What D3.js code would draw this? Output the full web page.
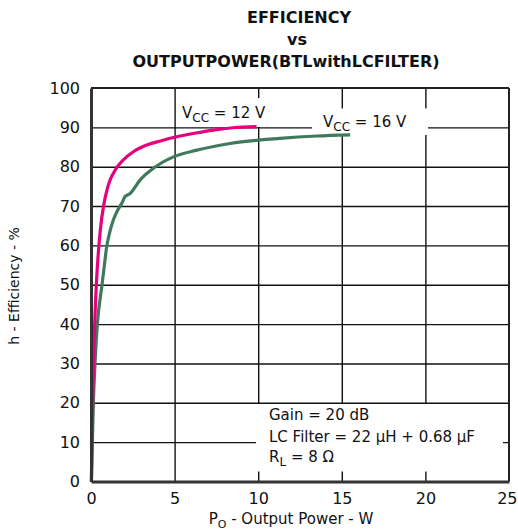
<!DOCTYPE html>
<html>
<head>
<meta charset="utf-8">
<script src="https://cdn.jsdelivr.net/npm/d3@7"></script>
<style>
  html, body { margin: 0; padding: 0; background: #fff; }
  svg { display: block; }
  text { font-family: "DejaVu Sans", "Liberation Sans", Arial, sans-serif; fill: #111; }
</style>
</head>
<body>
<div id="chart"></div>
<script>
// ---- data ----
const titleLines = ["EFFICIENCY", "vs", "OUTPUTPOWER(BTLwithLCFILTER)"];
const xTicks = [0, 5, 10, 15, 20, 25];
const yTicks = [0, 10, 20, 30, 40, 50, 60, 70, 80, 90, 100];
const seriesNames = ["VCC = 12 V", "VCC = 16 V"];
// Output power (W)
const vcc12Power = [0.02, 0.06, 0.10, 0.15, 0.22, 0.32, 0.42, 0.56, 0.75, 0.95, 1.14, 1.5, 1.93, 2.53, 3.34, 4.2, 5.13, 6.2, 7.32, 8.5, 9.9];
// Efficiency (%)
const vcc12Eff   = [0, 10, 20, 30, 40, 50, 57, 64, 70, 74, 76.6, 79.5, 81.7, 83.8, 85.5, 86.6, 87.6, 88.5, 89.3, 89.9, 90.2];
const vcc16Power = [0.03, 0.08, 0.14, 0.24, 0.38, 0.66, 0.8, 0.94, 1.1, 1.34, 1.6, 1.84, 2.04, 2.34, 2.93, 3.73, 4.93, 6.33, 8.32, 11.3, 13.5, 15.5];
const vcc16Eff   = [0, 10, 20, 30, 40, 50, 55, 59.7, 63, 66.5, 69, 70.7, 72.4, 73.2, 76.6, 79.6, 82.5, 84.2, 85.9, 87.2, 87.8, 88.1];
const noteLines = ["Gain = 20 dB", "LC Filter = 22 \u00B5H + 0.68 \u00B5F", "R_L = 8 \u03A9"];

// ---- layout ----
const W = 518, H = 532;
const x = d3.scaleLinear().domain([0, 25]).range([91, 509]);
const y = d3.scaleLinear().domain([0, 100]).range([481.5, 88]);

const svg = d3.select("#chart").append("svg").attr("width", W).attr("height", H);

// title
const titleX = [299, 297, 286], titleY = [23, 45, 67];
titleLines.forEach((t, i) => {
  svg.append("text").attr("x", titleX[i]).attr("y", titleY[i])
    .attr("text-anchor", "middle").attr("font-weight", "bold").attr("font-size", 16).text(t);
});

// grid
const grid = svg.append("g");
grid.append("g").attr("transform", `translate(0,${y(0)})`)
  .call(d3.axisBottom(x).tickValues(xTicks.slice(1, -1)).tickSize(-(y(0) - y(100))).tickFormat(""))
  .call(g => g.select(".domain").remove())
  .call(g => g.selectAll("line").attr("stroke", "#111").attr("stroke-width", 1.4));
grid.append("g").attr("transform", `translate(${x(0)},0)`)
  .call(d3.axisLeft(y).tickValues(yTicks.slice(1, -1)).tickSize(-(x(25) - x(0))).tickFormat(""))
  .call(g => g.select(".domain").remove())
  .call(g => g.selectAll("line").attr("stroke", "#111").attr("stroke-width", 1.4));

// white label backgrounds hiding grid
svg.append("rect").attr("x", 178).attr("y", 98).attr("width", 97).attr("height", 29).attr("fill", "#fff");
svg.append("rect").attr("x", 312).attr("y", 108.5).attr("width", 116).attr("height", 26.5).attr("fill", "#fff");
svg.append("rect").attr("x", 256).attr("y", 404).attr("width", 247).attr("height", 67.5).attr("fill", "#fff");

// curves
const line = d3.line().x(d => x(d[0])).y(d => y(d[1])).curve(d3.curveMonotoneX);
const d12 = vcc12Power.map((p, i) => [p, vcc12Eff[i]]);
const d16 = vcc16Power.map((p, i) => [p, vcc16Eff[i]]);
svg.append("path").datum(d16).attr("d", line).attr("fill", "none")
  .attr("stroke", "#3f7a5c").attr("stroke-width", 3.2).attr("stroke-linejoin", "round");
svg.append("path").datum(d12).attr("d", line).attr("fill", "none")
  .attr("stroke", "#e6007e").attr("stroke-width", 3.2).attr("stroke-linejoin", "round");

// frame
svg.append("line").attr("x1", x(0)).attr("x2", x(25)).attr("y1", y(100)).attr("y2", y(100))
  .attr("stroke", "#222").attr("stroke-width", 2);
svg.append("line").attr("x1", x(25)).attr("x2", x(25)).attr("y1", y(100)).attr("y2", y(0))
  .attr("stroke", "#222").attr("stroke-width", 2);

// axes
const xAxis = svg.append("g").attr("transform", `translate(0,${y(0)})`)
  .call(d3.axisBottom(x).tickValues(xTicks).tickSize(0).tickPadding(11).tickFormat(d3.format("d")));
xAxis.select(".domain").attr("stroke", "#333").attr("stroke-width", 3);
xAxis.selectAll("text").attr("font-size", 16).attr("font-family", "DejaVu Sans").attr("fill", "#222")
  .attr("dx", d => d === 25 ? -2 : 0)
  .attr("text-anchor", d => d === 25 ? "middle" : "middle");
xAxis.selectAll("text").filter(d => d === 25).attr("text-anchor", "end").attr("dx", 8);

const yAxis = svg.append("g").attr("transform", `translate(${x(0)},0)`)
  .call(d3.axisLeft(y).tickValues(yTicks).tickSize(0).tickPadding(11).tickFormat(d3.format("d")));
yAxis.select(".domain").attr("stroke", "#333").attr("stroke-width", 3);
yAxis.selectAll("text").attr("font-size", 16).attr("font-family", "DejaVu Sans").attr("fill", "#222");

// axis titles
const xt = svg.append("text").attr("x", 291).attr("y", 524).attr("text-anchor", "middle").attr("font-size", 15);
xt.append("tspan").text("P");
xt.append("tspan").attr("font-size", 11).attr("dy", 4).text("O");
xt.append("tspan").attr("dy", -4).text(" - Output Power - W");

svg.append("text").attr("transform", "translate(19,286) rotate(-90)")
  .attr("text-anchor", "middle").attr("font-size", 14).text("h - Efficiency - %");

// series labels
function vccLabel(tx, ty, s) {
  const t = svg.append("text").attr("x", tx).attr("y", ty).attr("font-size", 15);
  t.append("tspan").text("V");
  t.append("tspan").attr("font-size", 12).attr("dy", 4).text("CC");
  t.append("tspan").attr("dy", -4).text(s);
}
vccLabel(182, 118, seriesNames[0].replace("VCC", ""));
vccLabel(323, 126.5, seriesNames[1].replace("VCC", ""));

// note
const noteY = [420, 441.5, 462];
noteLines.forEach((l, i) => {
  const t = svg.append("text").attr("x", 269).attr("y", noteY[i]).attr("font-size", 15);
  if (l.startsWith("R_L")) {
    t.append("tspan").text("R");
    t.append("tspan").attr("font-size", 12).attr("dy", 4).text("L");
    t.append("tspan").attr("dy", -4).text(l.slice(3));
  } else {
    t.text(l);
  }
});
</script>
</body>
</html>
